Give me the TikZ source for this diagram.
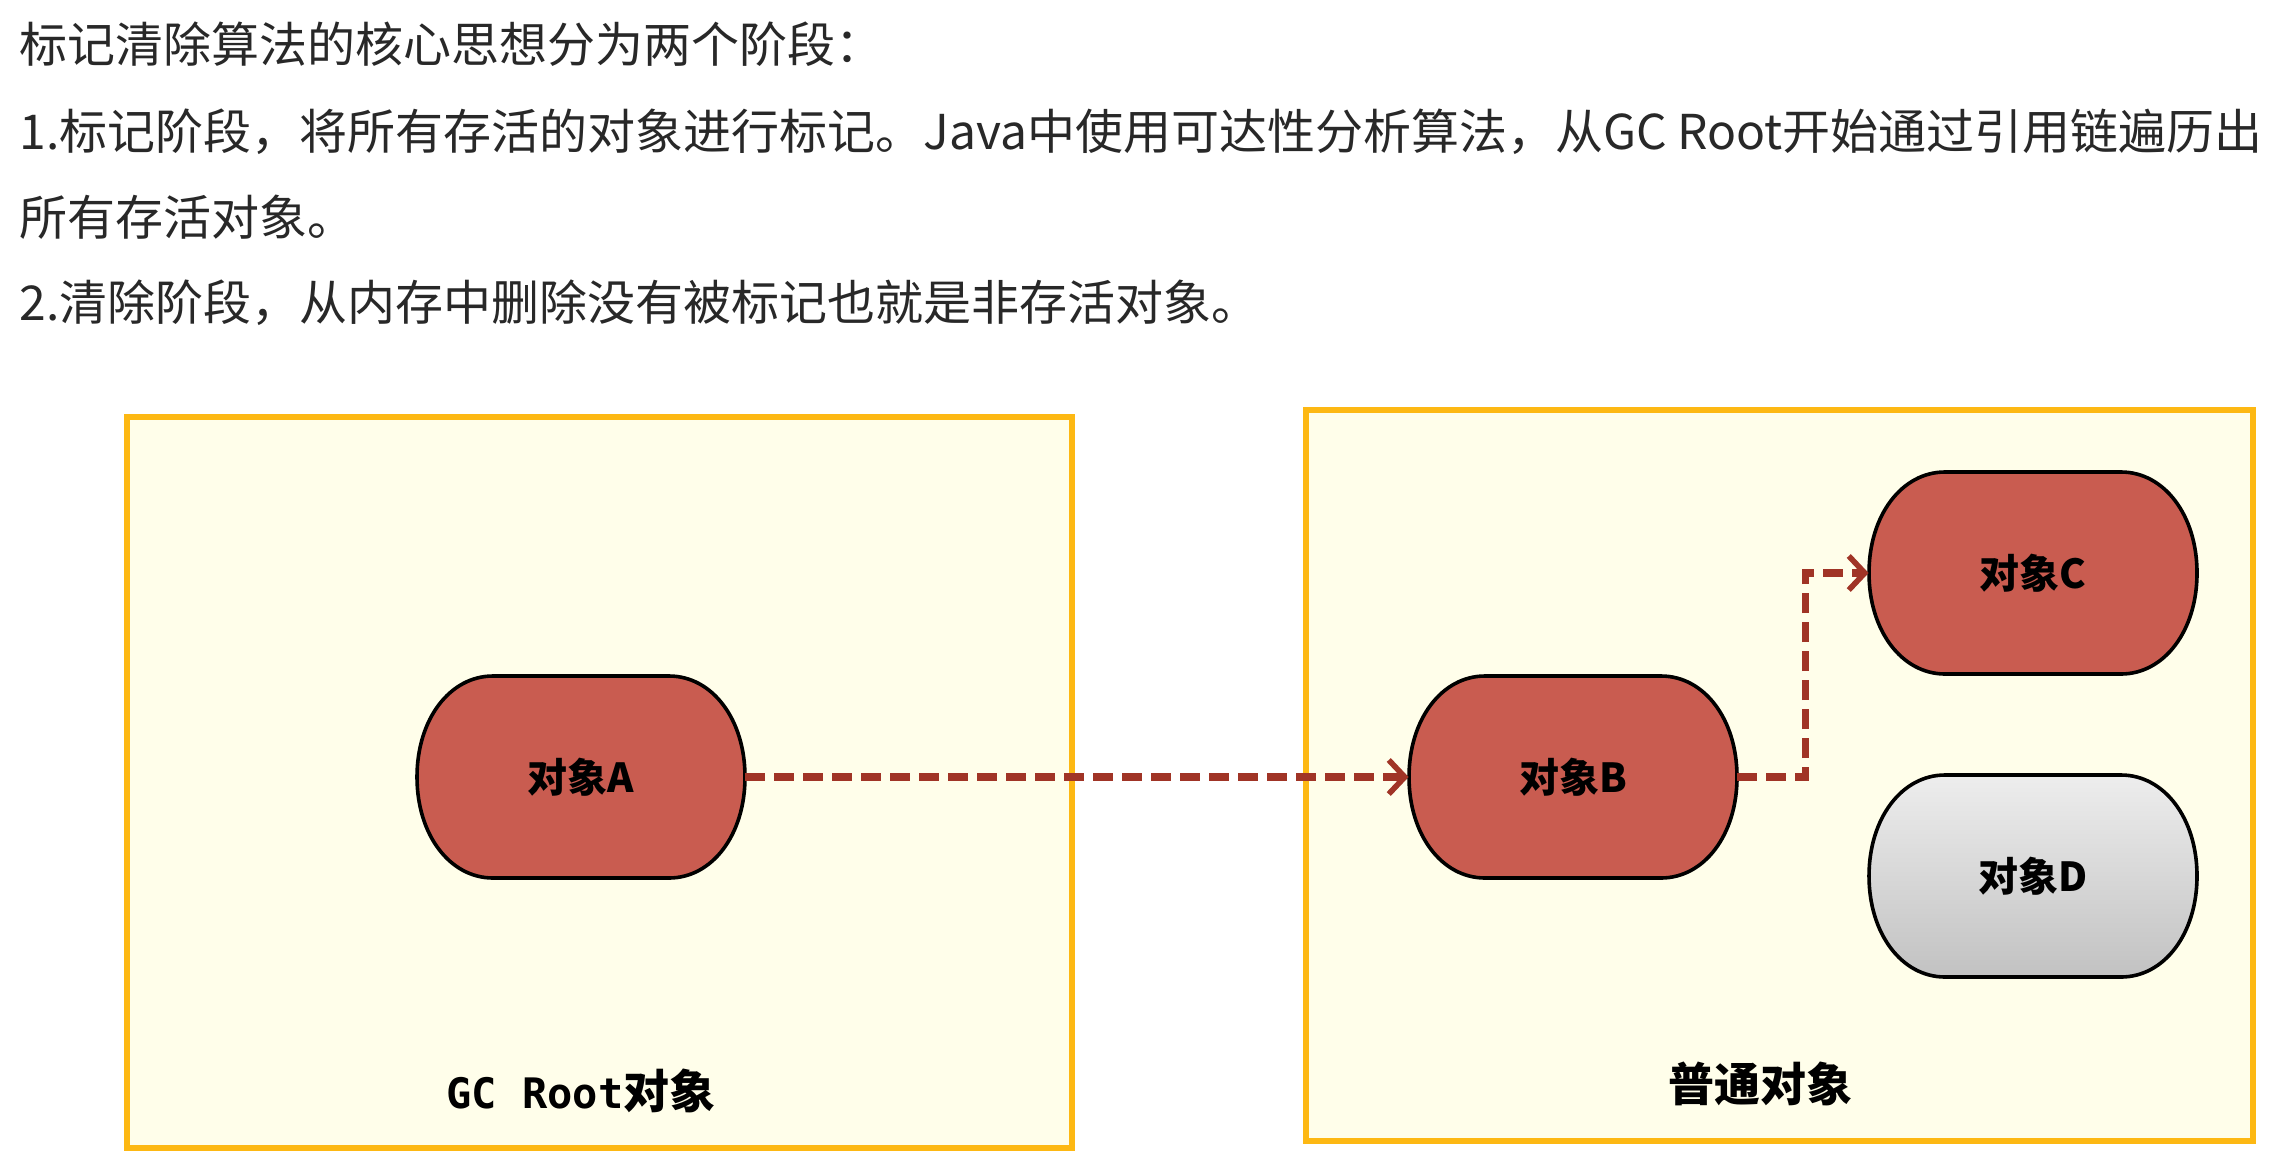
\documentclass[tikz,border=0pt]{standalone}
\usepackage{fontspec}
\setmainfont{Noto Sans CJK SC}
\newfontfamily\monob{DejaVu Sans Mono}
\usetikzlibrary{arrows.meta}
\definecolor{boxline}{RGB}{253,184,19}
\definecolor{boxfill}{RGB}{255,254,234}
\definecolor{objred}{RGB}{201,92,80}
\definecolor{arrred}{RGB}{160,52,38}
\definecolor{txt}{RGB}{40,40,40}
\tikzset{
  area/.style={draw=boxline,fill=boxfill,line width=3.2pt},
  objred/.style={draw=black,fill=objred,line width=1.8pt},
  objgray/.style={draw=black,line width=1.8pt,top color=white!93!black,bottom color=white!76!black},
  objtext/.style={minimum width=164pt,minimum height=101pt,inner sep=0pt,font=\fontsize{20}{24}\selectfont\bfseries,text=black},
  arr/.style={draw=arrred,line width=3.8pt,dash pattern=on 10pt off 4.5pt,-{Straight Barb[length=8pt,width=17pt,line width=2.8pt]}},
  body/.style={anchor=west,inner sep=0pt,text=txt,font=\fontsize{24}{28}\selectfont},
  arealabel/.style={inner sep=0pt,text=black,font=\fontsize{23}{28}\selectfont\bfseries}
}
\newcommand{\objpath}[2]{(#1-88,#2-101) -- (#1+88,#2-101) .. controls (#1+131,#2-101) and (#1+164,#2-58) .. (#1+164,#2) .. controls (#1+164,#2+58) and (#1+131,#2+101) .. (#1+88,#2+101) -- (#1-88,#2+101) .. controls (#1-131,#2+101) and (#1-164,#2+58) .. (#1-164,#2) .. controls (#1-164,#2-58) and (#1-131,#2-101) .. (#1-88,#2-101) -- cycle}
\begin{document}
\begin{tikzpicture}[x=0.5pt,y=-0.5pt]
\useasboundingbox[fill=white] (0,0) rectangle (2294,1162);
% text
\node[body] (t1) at (19,44) {标记清除算法的核心思想分为两个阶段：};
\node[body] (t2) at (19,132) {1.标记阶段，将所有存活的对象进行标记。Java中使用可达性分析算法，从GC Root开始通过引用链遍历出};
\node[body] (t3) at (19,217) {所有存活对象。};
\node[body] (t4) at (19,303) {2.清除阶段，从内存中删除没有被标记也就是非存活对象。};
% areas
\path[area] (127,417) rectangle (1072,1148);
\path[area] (1306,410) rectangle (2253,1141);
\node[arealabel] (l1) at (581,1091) {{\monob\bfseries\fontsize{21}{26}\selectfont GC Root}对象};
\node[arealabel] (l2) at (1760,1084) {普通对象};
% object shapes
\path[objred] \objpath{581}{777};
\path[objred] \objpath{1573}{777};
\path[objred] \objpath{2033}{573};
\path[objgray] \objpath{2033}{876};
\node[objtext] (A) at (581,777) {对象A};
\node[objtext] (B) at (1573,777) {对象B};
\node[objtext] (C) at (2033,573) {对象C};
\node[objtext] (D) at (2033,876) {对象D};
% connectors
\draw[arr] (A.east) -- (B.west);
\draw[arr] (B.east) -- ([xshift=34pt]B.east) |- (C.west);
\end{tikzpicture}
\end{document}
